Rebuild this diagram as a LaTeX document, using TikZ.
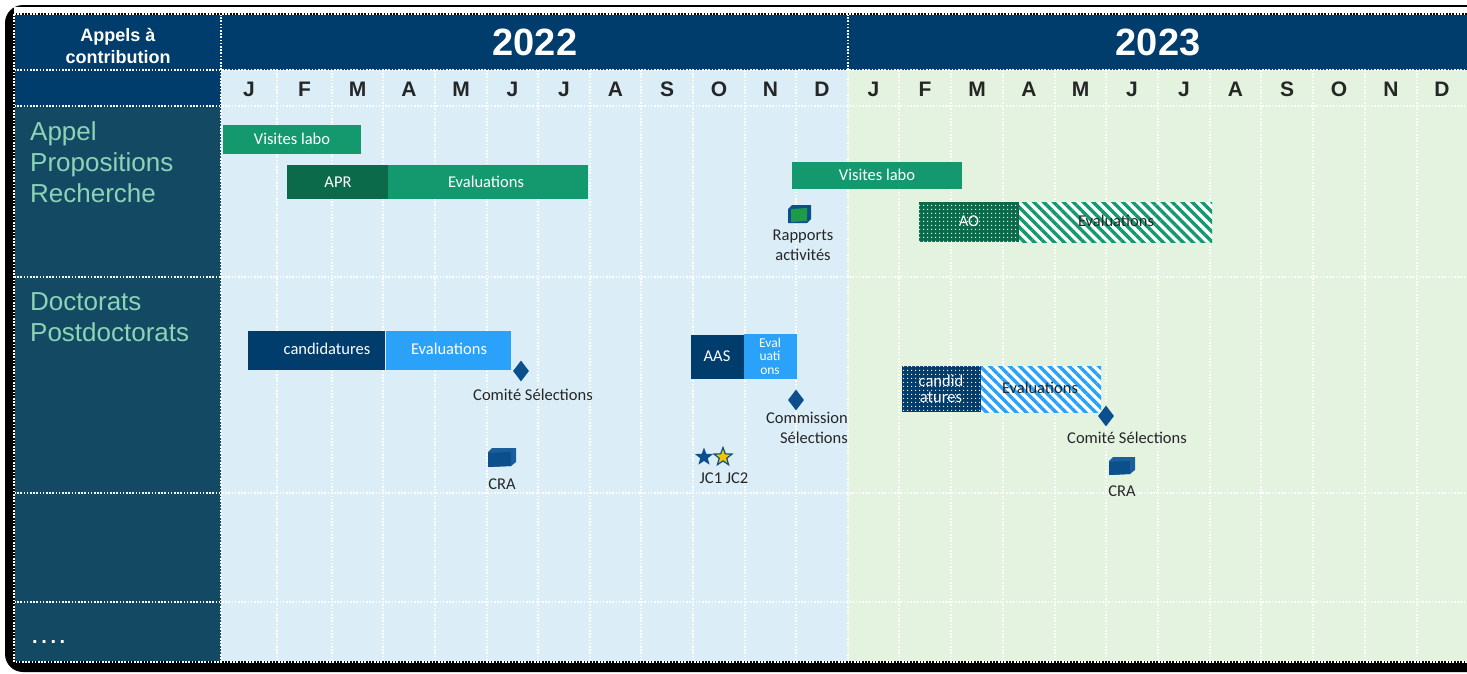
\documentclass[tikz,border=0pt]{standalone}
\usepackage{fontspec}
\setmainfont{Carlito}
\newfontfamily\arialfont{Liberation Sans}
\usetikzlibrary{shapes.geometric,patterns.meta}

\definecolor{navy}{HTML}{003C6C}
\definecolor{colonne}{HTML}{134963}
\definecolor{bleuclair}{HTML}{DBEEF8}
\definecolor{vertclair}{HTML}{E4F3E0}
\definecolor{vertbarre}{HTML}{14996F}
\definecolor{vertfonce}{HTML}{0B6A4A}
\definecolor{bleuvif}{HTML}{2AA2FA}
\definecolor{jalonbleu}{HTML}{0B4F8C}
\definecolor{iconclair}{HTML}{1B5E9E}
\definecolor{vertvif}{HTML}{1E9B48}
\definecolor{menthe}{HTML}{8DD3B6}
\definecolor{textegris}{HTML}{262626}
\definecolor{etoilejaune}{HTML}{F5C400}

\begin{document}
\begin{tikzpicture}[x=1pt,y=-1pt,
  grille/.style={white,line width=1.2pt,dash pattern=on 1.6pt off 1.6pt},
  mois/.style={inner sep=0pt,text=textegris,font=\arialfont\bfseries\fontsize{21}{24}\selectfont},
  annee/.style={inner sep=0pt,text=white,font=\arialfont\bfseries\fontsize{38}{42}\selectfont},
  rubrique/.style={anchor=west,inner sep=0pt,align=left,text=menthe,font=\arialfont\fontsize{26}{31}\selectfont},
  barretexte/.style={inner sep=0pt,text=white,font=\fontsize{16.5}{19}\selectfont},
  etiquette/.style={inner sep=0pt,align=center,text=textegris,font=\fontsize{16.5}{20}\selectfont},
  jalon/.style={diamond,fill=jalonbleu,inner sep=0pt,minimum width=16pt,minimum height=21pt},
  etoile/.style={star,star points=5,star point ratio=2.4,inner sep=0pt,minimum size=19pt},
  rayures/.style={pattern={Lines[angle=-45,distance=7pt,line width=3.4pt]}},
  points/.style={pattern={Dots[distance=4pt,radius=0.8pt]},pattern color=white}]
\useasboundingbox (0,0) rectangle (1467,673);
% cadre et ombre
\fill[black,rounded corners=18pt] (5,5) rectangle (1490,672);
\fill[white] (14,7) rectangle (1490,662);
% fonds
\fill[navy] (14,14) rectangle (1490,70);
\fill[navy] (14,70) rectangle (221,106);
\fill[colonne] (14,106) rectangle (221,662);
\fill[bleuclair] (221,70) rectangle (848,662);
\fill[vertclair] (848,70) rectangle (1490,662);
% grille
\draw[grille] (221,14) -- (221,662);
\draw[grille] (848,14) -- (848,662);
\draw[grille] (277,70) -- (277,662);
\draw[grille] (332,70) -- (332,662);
\draw[grille] (383,70) -- (383,662);
\draw[grille] (435,70) -- (435,662);
\draw[grille] (487,70) -- (487,662);
\draw[grille] (538,70) -- (538,662);
\draw[grille] (590,70) -- (590,662);
\draw[grille] (641,70) -- (641,662);
\draw[grille] (693,70) -- (693,662);
\draw[grille] (745,70) -- (745,662);
\draw[grille] (796,70) -- (796,662);
\draw[grille] (899,70) -- (899,662);
\draw[grille] (951,70) -- (951,662);
\draw[grille] (1003,70) -- (1003,662);
\draw[grille] (1055,70) -- (1055,662);
\draw[grille] (1106,70) -- (1106,662);
\draw[grille] (1158,70) -- (1158,662);
\draw[grille] (1210,70) -- (1210,662);
\draw[grille] (1261,70) -- (1261,662);
\draw[grille] (1313,70) -- (1313,662);
\draw[grille] (1365,70) -- (1365,662);
\draw[grille] (1417,70) -- (1417,662);
\draw[grille] (14,70) -- (1490,70);
\draw[grille] (14,106) -- (1490,106);
\draw[grille] (14,277) -- (1490,277);
\draw[grille] (14,493) -- (1490,493);
\draw[grille] (14,602) -- (1490,602);
\draw[black,line width=1.2pt] (14,14) rectangle (1490,662);
\draw[grille] (14,14) rectangle (1490,662);
% en-tetes
\node[inner sep=0pt,align=center,text=white,font=\arialfont\bfseries\fontsize{18}{22}\selectfont] (appels) at (118,46) {Appels à\\contribution};
\node[annee] (an22) at (535,42) {2022};
\node[annee] (an23) at (1158,42) {2023};
\node[mois] (jan22) at (249,89) {J};
\node[mois] (fev22) at (304.5,89) {F};
\node[mois] (mar22) at (357.5,89) {M};
\node[mois] (avr22) at (409,89) {A};
\node[mois] (mai22) at (461,89) {M};
\node[mois] (jun22) at (512.5,89) {J};
\node[mois] (jul22) at (564,89) {J};
\node[mois] (aou22) at (615.5,89) {A};
\node[mois] (sep22) at (667,89) {S};
\node[mois] (oct22) at (719,89) {O};
\node[mois] (nov22) at (770.5,89) {N};
\node[mois] (dec22) at (822,89) {D};
\node[mois] (jan23) at (873.5,89) {J};
\node[mois] (fev23) at (925,89) {F};
\node[mois] (mar23) at (977,89) {M};
\node[mois] (avr23) at (1029,89) {A};
\node[mois] (mai23) at (1080.5,89) {M};
\node[mois] (jun23) at (1132,89) {J};
\node[mois] (jul23) at (1184,89) {J};
\node[mois] (aou23) at (1235.5,89) {A};
\node[mois] (sep23) at (1287,89) {S};
\node[mois] (oct23) at (1339,89) {O};
\node[mois] (nov23) at (1391,89) {N};
\node[mois] (dec23) at (1442,89) {D};
% colonne de gauche
\node[rubrique] (apr) at (30,162) {Appel\\Propositions\\Recherche};
\node[rubrique] (doc) at (30,317) {Doctorats\\Postdoctorats};
\node[anchor=base west,inner sep=0pt,text=white,font=\arialfont\bfseries\fontsize{20}{24}\selectfont] (suite) at (32,643) {.\hspace{3.6pt}.\hspace{3.6pt}.\hspace{3.6pt}.};
% appel propositions recherche
\fill[vertbarre] (223,125) rectangle (361,154);
\node[barretexte] (visites1) at (292,139) {Visites labo};
\fill[vertfonce] (287,165) rectangle (388,199);
\node[barretexte] (aprb) at (338,182) {APR};
\fill[vertbarre] (388,165) rectangle (588,199);
\node[barretexte] (eval1) at (486,182) {Evaluations};
\fill[vertbarre] (792,162) rectangle (962,189);
\node[barretexte] (visites2) at (877,175) {Visites labo};
\fill[jalonbleu] (788,209) -- (792,205) -- (811,205) -- (811,219) -- (807,223) -- (788,223) -- cycle;
\fill[vertvif] (791,209) -- (807,208) -- (807,221) -- (791,222) -- cycle;
\node[etiquette] (rapports) at (803,245) {Rapports\\activités};
\fill[vertfonce] (919,202) rectangle (1019,242);
\fill[points] (919,202) rectangle (1019,242);
\node[barretexte] (ao) at (969,221) {AO};
\fill[white] (1019,202) rectangle (1212,242);
\fill[rayures,pattern color=vertbarre] (1019,202) rectangle (1212,242);
\node[barretexte,text=textegris] (eval2) at (1116,221) {Evaluations};
% doctorats postdoctorats
\fill[navy] (248,331) rectangle (385,370);
\node[barretexte] (cand1) at (327,349) {candidatures};
\fill[bleuvif] (386,331) rectangle (511,370);
\node[barretexte] (eval3) at (449,349) {Evaluations};
\node[jalon] (jalon1) at (521,371) {};
\node[etiquette] (comite1) at (533,395) {Comité Sélections};
\fill[iconclair] (488,452) -- (492,448) -- (516,448) -- (516,462) -- (511,466) -- (488,467) -- cycle;
\fill[jalonbleu] (488,453) -- (511,452) -- (511,466) -- (488,467) -- cycle;
\node[etiquette] (cra1) at (502,484) {CRA};
\fill[navy] (691,335) rectangle (744,379);
\node[barretexte] (aas) at (717,356) {AAS};
\fill[bleuvif] (744,334) rectangle (797,379);
\node[barretexte,align=center,font=\fontsize{13.5}{13.5}\selectfont] (eval4) at (770,356) {Eval\\uati\\ons};
\node[jalon] (jalon2) at (796,400) {};
\node[etiquette,anchor=east,align=right] (commission) at (848,428) {Commission\\Sélections};
\node[etoile,fill=jalonbleu] (jc1) at (704,457) {};
\node[etoile,fill=etoilejaune,draw=jalonbleu,line width=1.2pt] (jc2) at (723,457) {};
\node[etiquette] (jc) at (724,478) {JC1 JC2};
\fill[navy] (902,366) rectangle (981,412);
\fill[points] (902,366) rectangle (981,412);
\node[barretexte,align=center,font=\fontsize{16.5}{16}\selectfont] (cand2) at (941,389) {candid\\atures};
\fill[white] (981,366) rectangle (1101,412);
\fill[rayures,pattern color=bleuvif] (981,366) rectangle (1101,412);
\node[barretexte,text=textegris] (eval5) at (1040,388) {Evaluations};
\node[jalon] (jalon3) at (1106,416) {};
\node[etiquette] (comite2) at (1127,438) {Comité Sélections};
\fill[iconclair] (1109,461) -- (1113,457) -- (1135,457) -- (1135,470) -- (1130,474) -- (1109,475) -- cycle;
\fill[jalonbleu] (1109,462) -- (1130,461) -- (1130,474) -- (1109,475) -- cycle;
\node[etiquette] (cra2) at (1122,491) {CRA};
\end{tikzpicture}
\end{document}
